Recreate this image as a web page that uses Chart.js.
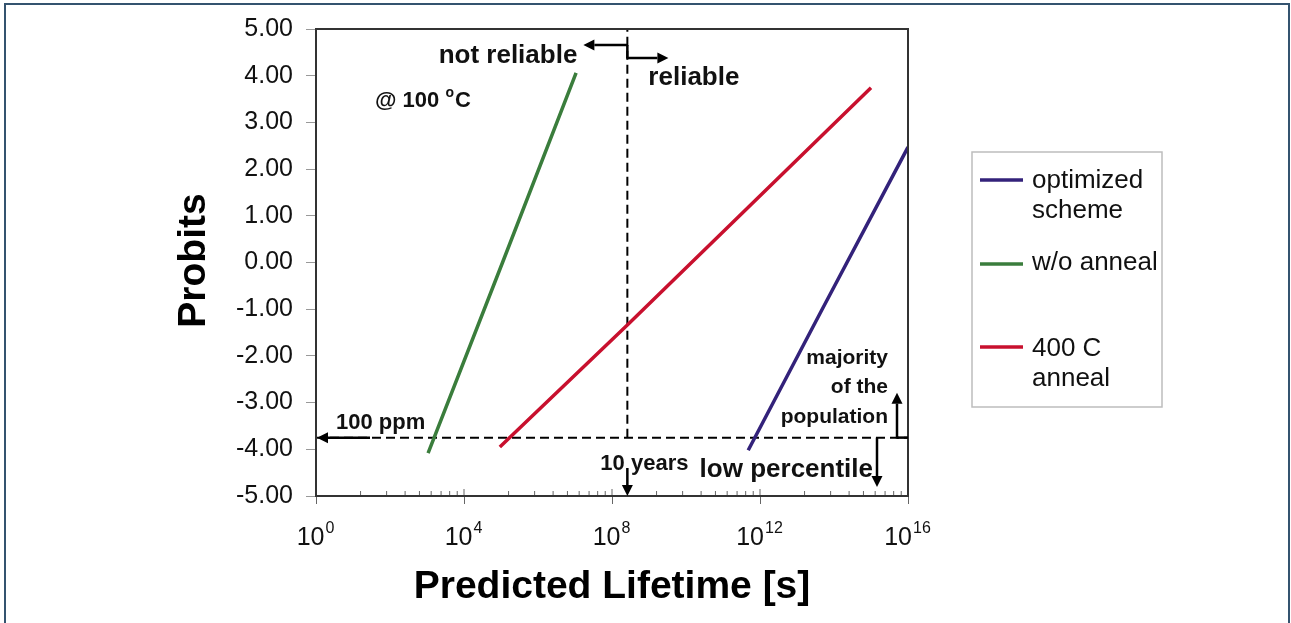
<!DOCTYPE html>
<html>
<head>
<meta charset="utf-8">
<title>Probits vs predicted lifetime</title>
<script src="https://cdn.jsdelivr.net/npm/chart.js@4.4.1/dist/chart.umd.min.js"></script>
<style>
  html, body { margin: 0; padding: 0; background: #fff; }
  #wrap { position: relative; width: 1291px; height: 623px; overflow: hidden; }
  #frame { position: absolute; left: 4px; top: 3px; width: 1282px; height: 700px; border: 2px solid #34536f; }
  #chart { position: absolute; left: 0; top: 0; }
</style>
</head>
<body>
<div id="wrap">
  <div id="frame"></div>
  <canvas id="chart" width="1291" height="623"></canvas>
</div>
<script>
// values: x = lifetime [s], y = probit
const seriesNames = [["optimized", "scheme"], ["w/o anneal"], ["400 C", "anneal"]];
const seriesColors = ["#33227a", "#3a7d3c", "#c8102e"];
const optimizedX = [4.8e11, 4.8e13, 1e16];
const optimizedY = [-4.02, -1.0, 2.47];
const noAnnealX = [1.07e3, 1.1e5, 1.07e7];
const noAnnealY = [-4.08, 0.0, 4.06];
const anneal400X = [9.3e4, 2.6e8, 1e15];
const anneal400Y = [-3.95, -1.34, 3.74];

const ppmProbit = -3.75;    // 100 ppm level
const tenYearsSec = 2.6e8;  // 10 years
const xTickPowers = [0, 4, 8, 12, 16];
const yTicks = [-5, -4, -3, -2, -1, 0, 1, 2, 3, 4, 5];

const FONT = "Arial, 'Liberation Sans', sans-serif";
const toPoints = (xs, ys) => xs.map((x, i) => ({ x: x, y: ys[i] }));

function arrow(ctx, x1, y1, x2, y2) {
  const ang = Math.atan2(y2 - y1, x2 - x1);
  const hl = 11, hw = 5.5;
  const bx = x2 - hl * Math.cos(ang), by = y2 - hl * Math.sin(ang);
  ctx.beginPath(); ctx.moveTo(x1, y1); ctx.lineTo(bx, by); ctx.stroke();
  ctx.beginPath();
  ctx.moveTo(x2, y2);
  ctx.lineTo(bx - hw * Math.sin(ang), by + hw * Math.cos(ang));
  ctx.lineTo(bx + hw * Math.sin(ang), by - hw * Math.cos(ang));
  ctx.closePath(); ctx.fill();
}

function text(ctx, str, x, y, size, bold, align) {
  ctx.font = (bold ? "bold " : "") + size + "px " + FONT;
  ctx.textAlign = align || "left";
  ctx.textBaseline = "alphabetic";
  ctx.fillText(str, x, y);
}

const decorations = {
  id: "decorations",
  afterDraw(chart) {
    const ctx = chart.ctx, a = chart.chartArea;
    const xs = chart.scales.x, ys = chart.scales.y;
    const L = a.left, R = a.right, T = a.top, B = a.bottom;
    const X10 = xs.getPixelForValue(tenYearsSec);
    const YH = ys.getPixelForValue(ppmProbit);
    ctx.save();

    // minor / inner ticks on the log axis
    ctx.strokeStyle = "#666"; ctx.lineWidth = 1;
    for (let n = 0; n < 16; n += 4) {
      for (let k = 1; k <= 9; k++) {
        const px = xs.getPixelForValue(Math.pow(10, n) * Math.pow(k, 4));
        ctx.beginPath(); ctx.moveTo(px, B); ctx.lineTo(px, B - (k === 1 ? 7 : 5)); ctx.stroke();
      }
    }

    // plot frame
    ctx.strokeStyle = "#333"; ctx.lineWidth = 2;
    ctx.strokeRect(L, T, R - L, B - T);

    // arrows
    ctx.strokeStyle = "#000"; ctx.fillStyle = "#000"; ctx.lineWidth = 2.5;
    arrow(ctx, L + 54, YH, L + 1, YH);
    arrow(ctx, X10, T + 16, X10 - 44, T + 16);
    ctx.beginPath(); ctx.moveTo(X10, T + 16); ctx.lineTo(X10, T + 29); ctx.stroke();
    arrow(ctx, X10 - 1, T + 29, X10 + 41, T + 29);
    ctx.beginPath(); ctx.moveTo(R - 11, YH); ctx.lineTo(R, YH); ctx.stroke();
    arrow(ctx, R - 11, YH + 1, R - 11, YH - 45);
    arrow(ctx, R - 31, YH, R - 31, B - 9);
    arrow(ctx, X10, B - 28, X10, B);

    // annotations
    ctx.fillStyle = "#111";
    text(ctx, "not reliable", X10 - 50, T + 34, 26, true, "right");
    text(ctx, "reliable", X10 + 21, T + 56, 26, true);
    ctx.font = "bold 22px " + FONT;
    const at = "@ 100 ";
    text(ctx, at, L + 59, T + 78, 22, true);
    let w = ctx.measureText(at).width;
    text(ctx, "o", L + 59 + w, T + 68, 14, true);
    ctx.font = "bold 14px " + FONT;
    w += ctx.measureText("o").width + 1;
    text(ctx, "C", L + 59 + w, T + 78, 22, true);
    text(ctx, "100 ppm", L + 20, YH - 9, 22, true);
    text(ctx, "10 years", X10 - 27, B - 26, 22, true);
    text(ctx, "low percentile", R - 35, B - 19, 26, true, "right");
    text(ctx, "majority", R - 20, YH - 74, 21, true, "right");
    text(ctx, "of the", R - 20, YH - 45, 21, true, "right");
    text(ctx, "population", R - 20, YH - 15, 21, true, "right");

    // x tick labels 10^n
    ctx.fillStyle = "#111";
    xTickPowers.forEach(p => {
      const cx = xs.getPixelForValue(Math.pow(10, p));
      ctx.font = "25px " + FONT;
      const wb = ctx.measureText("10").width;
      ctx.font = "16px " + FONT;
      const we = ctx.measureText(String(p)).width;
      const x0 = cx - (wb + we) / 2 - 1;
      text(ctx, "10", x0, B + 49, 25, false);
      text(ctx, String(p), x0 + wb + 1, B + 37, 16, false);
    });

    // axis titles
    ctx.fillStyle = "#000";
    text(ctx, "Predicted Lifetime [s]", (L + R) / 2, B + 102, 39, true, "center");
    ctx.save();
    ctx.translate(205, (T + B) / 2 - 2);
    ctx.rotate(-Math.PI / 2);
    text(ctx, "Probits", 0, 0, 39, true, "center");
    ctx.restore();

    // legend
    ctx.strokeStyle = "#bdbdbd"; ctx.lineWidth = 1.5;
    ctx.strokeRect(972, 152, 190, 255);
    const lineY = [180, 264, 347];
    const textY = [[188, 218], [270], [356, 386]];
    seriesNames.forEach((lines, i) => {
      ctx.strokeStyle = chart.data.datasets[i].borderColor; ctx.lineWidth = 3.5;
      ctx.beginPath(); ctx.moveTo(980, lineY[i]); ctx.lineTo(1023, lineY[i]); ctx.stroke();
      ctx.fillStyle = "#111";
      lines.forEach((s, j) => text(ctx, s, 1032, textY[i][j], 26, false));
    });
    ctx.restore();
  }
};

const lineStyle = { showLine: true, pointRadius: 0, borderWidth: 3.5, tension: 0, fill: false };
const dashStyle = { showLine: true, pointRadius: 0, borderWidth: 2, borderColor: "#000", borderDash: [9, 5], fill: false };

new Chart(document.getElementById("chart"), {
  type: "scatter",
  data: {
    datasets: [
      Object.assign({ label: seriesNames[0].join(" "), data: toPoints(optimizedX, optimizedY), borderColor: seriesColors[0] }, lineStyle),
      Object.assign({ label: seriesNames[1].join(" "), data: toPoints(noAnnealX, noAnnealY), borderColor: seriesColors[1] }, lineStyle),
      Object.assign({ label: seriesNames[2].join(" "), data: toPoints(anneal400X, anneal400Y), borderColor: seriesColors[2] }, lineStyle),
      Object.assign({ label: "100 ppm", data: [{ x: 1, y: ppmProbit }, { x: 1e16, y: ppmProbit }] }, dashStyle),
      Object.assign({ label: "10 years", data: [{ x: tenYearsSec, y: ppmProbit }, { x: tenYearsSec, y: 5 }] }, dashStyle)
    ]
  },
  options: {
    responsive: false,
    animation: false,
    devicePixelRatio: 1,
    layout: { padding: { left: 0, right: 383, top: 29, bottom: 0 } },
    plugins: { legend: { display: false }, tooltip: { enabled: false } },
    scales: {
      x: {
        type: "logarithmic",
        min: 1,
        max: 1e16,
        afterBuildTicks: s => { s.ticks = xTickPowers.map(p => ({ value: Math.pow(10, p) })); },
        afterFit: s => { s.height = 127; },
        grid: { drawOnChartArea: false, tickLength: 8, color: "#666" },
        border: { display: false },
        ticks: { display: false }
      },
      y: {
        min: -5,
        max: 5,
        afterBuildTicks: s => { s.ticks = yTicks.map(v => ({ value: v })); },
        afterFit: s => { s.width = 316; },
        grid: { drawOnChartArea: false, tickLength: 10, color: "#999" },
        border: { display: false },
        ticks: {
          padding: 13,
          color: "#111",
          font: { family: FONT, size: 25 },
          callback: v => Number(v).toFixed(2)
        }
      }
    }
  },
  plugins: [decorations]
});
</script>
</body>
</html>
